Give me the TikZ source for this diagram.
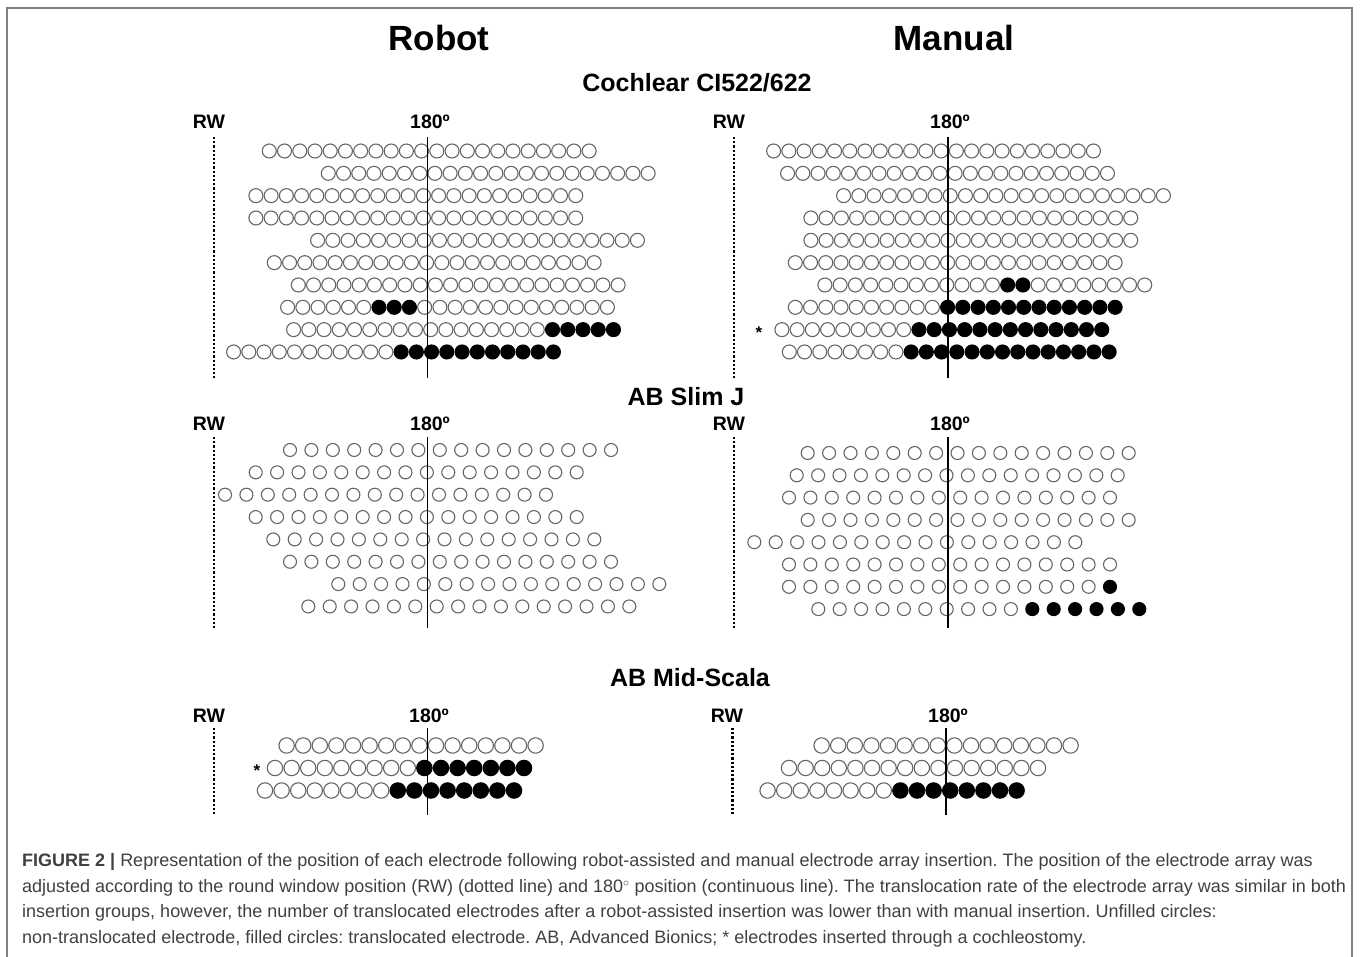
\documentclass[tikz,border=0pt]{standalone}
\usepackage{fontspec}
\setmainfont{Liberation Sans}
\usetikzlibrary{positioning}
\frenchspacing

% one array: x of first centre, y, count, pitch, radius, first and last filled
\newcommand{\erow}[7]{%
\foreach \k in {1,...,#3}{%
\ifnum\k<#6\relax\def\est{openE}\else\ifnum\k>#7\relax\def\est{openE}\else\def\est{fullE}\fi\fi
\draw[\est] ({#1+(\k-1)*#4},{#2}) circle[radius=#5];
}}

\begin{document}
\begin{tikzpicture}
[x=1pt,y=-1pt,
title/.style={font=\fontsize{35}{40}\selectfont\bfseries},
group/.style={font=\fontsize{25}{28}\selectfont\bfseries},
tag/.style={font=\fontsize{19.5}{22}\selectfont\bfseries},
star/.style={font=\fontsize{17}{20}\selectfont\bfseries},
openE/.style={draw=black!60, line width=1.1pt, fill=white},
fullE/.style={draw=black, fill=black, line width=1.1pt},
rwline/.style={line width=2.4pt, dash pattern=on 2.2pt off 2pt},
degline/.style={line width=1.3pt},
capt/.style={anchor=west, inner sep=0pt, text=black!75, font=\fontsize{18}{21}\selectfont}]
\useasboundingbox (0,0) rectangle (1360,957);
\draw[black!50, line width=1.2pt] (7,957) |- (1352,8) -- (1352,957);
%%
\node[title] (robotT) at (439,38) {Robot};
\node[title] (manualT) at (954,38) {Manual};
%%
%% Cochlear CI522/622
\node[group] (cochT) at (697,83) {Cochlear CI522/622};
\node[tag] (rwCR) at (209,122) {RW};
\node[tag] (degCR) at (430,122) {180º};
\node[tag] (rwCM) at (729,122) {RW};
\node[tag] (degCM) at (950,122) {180º};
\foreach \xs/\fa/\fb [count=\r from 0] in {269.3/99/0,328.3/99/0,255.9/99/0,255.9/99/0,317.6/99/0,
274.3/99/0,298.3/99/0,287.6/7/9,293.6/18/22,233.6/12/22}
\erow{\xs}{151+22.33*\r}{22}{15.23}{7}{\fa}{\fb};
\foreach \xs/\fa/\fb [count=\r from 0] in {773.6/99/0,787.6/99/0,843.6/99/0,810.9/99/0,810.9/99/0,
795.3/99/0,824.9/13/14,795.3/11/22,781.9/10/22,789.3/9/22}
\erow{\xs}{151+22.33*\r}{22}{15.23}{7}{\fa}{\fb};
\node[star] (astCM) at (759,333) {*};
\draw[rwline] (214,137) -- (214,378);
\draw[degline] (427.3,137) -- (427.3,378);
\draw[rwline] (734,137) -- (734,378);
\draw[degline] (948,137) -- (948,378);
%%
%% AB Slim J
\node[group] (slimT) at (686,397) {AB Slim J};
\node[tag] (rwSR) at (209,424) {RW};
\node[tag] (degSR) at (430,424) {180º};
\node[tag] (rwSM) at (729,424) {RW};
\node[tag] (degSM) at (950,424) {180º};
\foreach \xs/\fa/\fb [count=\r from 0] in {290/99/0,255.7/99/0,225/99/0,255.7/99/0,
273.3/99/0,290/99/0,338.3/99/0,308.3/99/0}
\erow{\xs}{450+22.35*\r}{16}{21.4}{6.5}{\fa}{\fb};
\foreach \xs/\fa/\fb [count=\r from 0] in {807.7/99/0,796.7/99/0,789/99/0,807.7/99/0,
754.3/99/0,789/99/0,789/16/16,818.3/11/16}
\erow{\xs}{453+22.3*\r}{16}{21.4}{6.5}{\fa}{\fb};
\draw[rwline] (214,437) -- (214,628);
\draw[degline] (427.3,437) -- (427.3,628);
\draw[rwline] (734,437) -- (734,628);
\draw[degline] (948,437) -- (948,628);
%%
%% AB Mid-Scala
\node[group] (midT) at (690,678) {AB Mid-Scala};
\node[tag] (rwMR) at (209,716) {RW};
\node[tag] (degMR) at (429,716) {180º};
\node[tag] (rwMM) at (727,716) {RW};
\node[tag] (degMM) at (948,716) {180º};
\foreach \xs/\fa/\fb [count=\r from 0] in {286.6/99/0,275/10/16,265/9/16}
\erow{\xs}{745.5+22.5*\r}{16}{16.6}{7.7}{\fa}{\fb};
\foreach \xs/\fa/\fb [count=\r from 0] in {821.6/99/0,789/99/0,767.6/9/16}
\erow{\xs}{745.5+22.5*\r}{16}{16.6}{7.7}{\fa}{\fb};
\node[star] (astMR) at (257,771) {*};
\draw[rwline] (214,728) -- (214,815);
\draw[degline] (427.3,728) -- (427.3,815);
\draw[rwline] (732.3,728) -- (732.3,815);
\draw[degline] (946,728) -- (946,815);
%%
%% caption
\node[capt] (cap1) at (22,862) {\textbf{FIGURE 2 |} Representation of the position of each electrode following robot-assisted and manual electrode array insertion. The position of the electrode array was};
\node[capt] (cap2) at (22,888) {adjusted according to the round window position (RW) (dotted line) and 180$^{\circ}$ position (continuous line). The translocation rate of the electrode array was similar in both};
\node[capt] (cap3) at (22,913) {insertion groups, however, the number of translocated electrodes after a robot-assisted insertion was lower than with manual insertion. Unfilled circles:};
\node[capt] (cap4) at (22,939) {non-translocated electrode, filled circles: translocated electrode. AB, Advanced Bionics; * electrodes inserted through a cochleostomy.};
\end{tikzpicture}
\end{document}
